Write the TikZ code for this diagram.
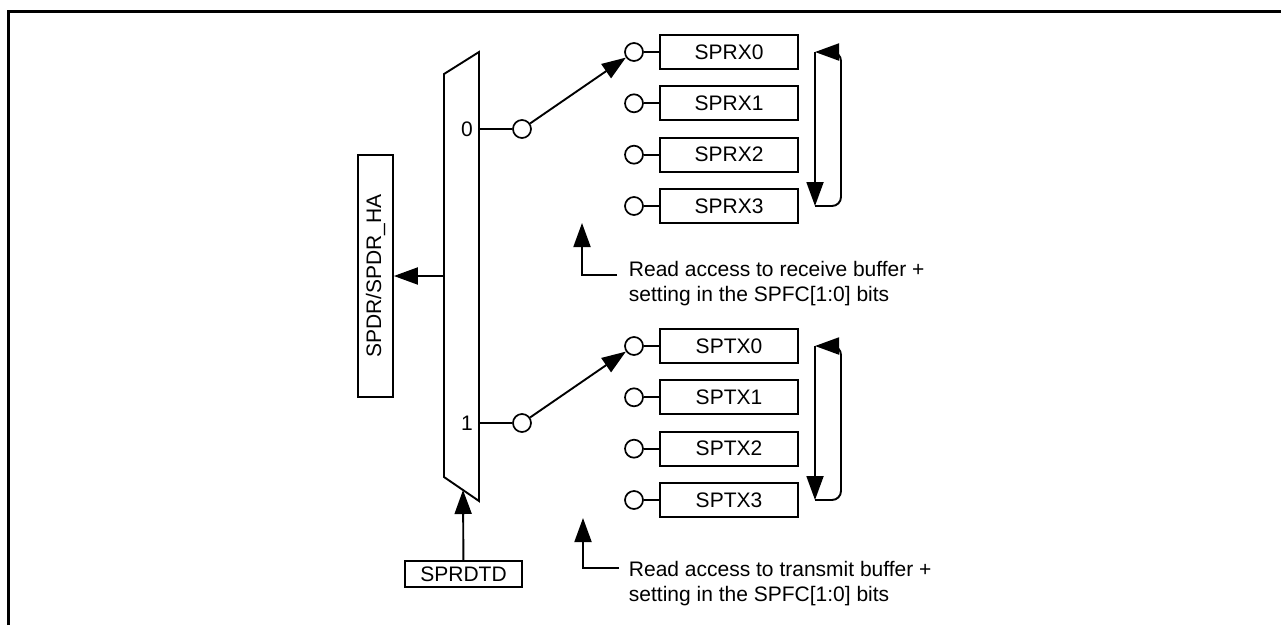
\documentclass[tikz,border=0pt]{standalone}
\usepackage{fontspec}
\setmainfont{Liberation Sans}
\usetikzlibrary{arrows.meta}
\begin{document}
\begin{tikzpicture}[x=1pt,y=-1pt, line width=1.9pt,
  arr/.style={-{Triangle[length=24pt,width=17pt]}},
  txt/.style={font=\fontsize{21}{25}\selectfont},
  buf/.style={draw, line width=1.7pt, minimum width=138pt, minimum height=34pt, inner sep=0pt, txt},
  port/.style={draw, circle, minimum size=18pt, inner sep=0pt, line width=1.7pt, fill=white},
  lbl/.style={txt, inner sep=0pt}]
\useasboundingbox (0,0) rectangle (1281,625);
% frame
\draw[line width=3pt] (8,625) -- (8,11) -- (1281,11);
% multiplexer
\draw (444,74) -- (479,52) -- (479,501) -- (444,477) -- cycle;
\coordinate (m0) at (479,129);
\coordinate (m1) at (479,423);
\coordinate (mL) at (444,276);
\coordinate (mB) at (463,490);
\node[lbl] (l0) at (467,129) {0};
\node[lbl] (l1) at (467,423) {1};
% outputs/inputs of mux
\node[draw, line width=1.7pt, rotate=90, minimum width=242pt, minimum height=35pt, inner sep=0pt, txt] (spdr) at (375.5,276) {SPDR/SPDR\_HA};
\node[buf, minimum width=117pt, minimum height=26pt] (sprdtd) at (463.5,574) {SPRDTD};
\draw[arr] (mL) -- (spdr);
\draw[arr] (sprdtd) -- (mB);
% switch pivots
\node[port] (c0) at (522,129) {};
\node[port] (c1) at (522,423) {};
\draw (m0) -- (c0);
\draw (m1) -- (c1);
% receive buffers
\foreach \i/\y in {0/52,1/103.3,2/154.7,3/206} {
  \node[port] (r\i) at (634,\y) {};
  \node[buf] (R\i) at (729,\y) {SPRX\i};
  \draw (r\i) -- (R\i);
}
% transmit buffers
\foreach \i/\y in {0/346,1/397.3,2/448.7,3/500} {
  \node[port] (t\i) at (634,\y) {};
  \node[buf] (T\i) at (729,\y) {SPTX\i};
  \draw (t\i) -- (T\i);
}
\draw[arr] (c0) -- (r0);
\draw[arr] (c1) -- (t0);
% cyclic arrows
\coordinate (ra) at (815,52);
\coordinate (rb) at (815,206);
\coordinate (rc) at (841,206);
\coordinate (rd) at (841,52);
\draw[arr] (ra) -- (rb);
\draw[arr, rounded corners=9pt] (rb) -- (rc) -- (rd) -- (ra);
\coordinate (ta) at (815,346);
\coordinate (tb) at (815,500);
\coordinate (tc) at (841,500);
\coordinate (td) at (841,346);
\draw[arr] (ta) -- (tb);
\draw[arr, rounded corners=9pt] (tb) -- (tc) -- (td) -- (ta);
% read access notes
\coordinate (rxE) at (617,275);
\coordinate (rxC) at (582,275);
\coordinate (rxT) at (582,223);
\draw[arr] (rxE) -- (rxC) -- (rxT);
\node[lbl, anchor=base west] (rx1) at (628,276) {Read access to receive buffer +};
\node[lbl, anchor=base west] (rx2) at (628,301) {setting in the SPFC[1:0] bits};
\coordinate (txE) at (619,568);
\coordinate (txC) at (583,568);
\coordinate (txT) at (583,518);
\draw[arr] (txE) -- (txC) -- (txT);
\node[lbl, anchor=base west] (tx1) at (628,576) {Read access to transmit buffer +};
\node[lbl, anchor=base west] (tx2) at (628,601) {setting in the SPFC[1:0] bits};
\end{tikzpicture}
\end{document}
